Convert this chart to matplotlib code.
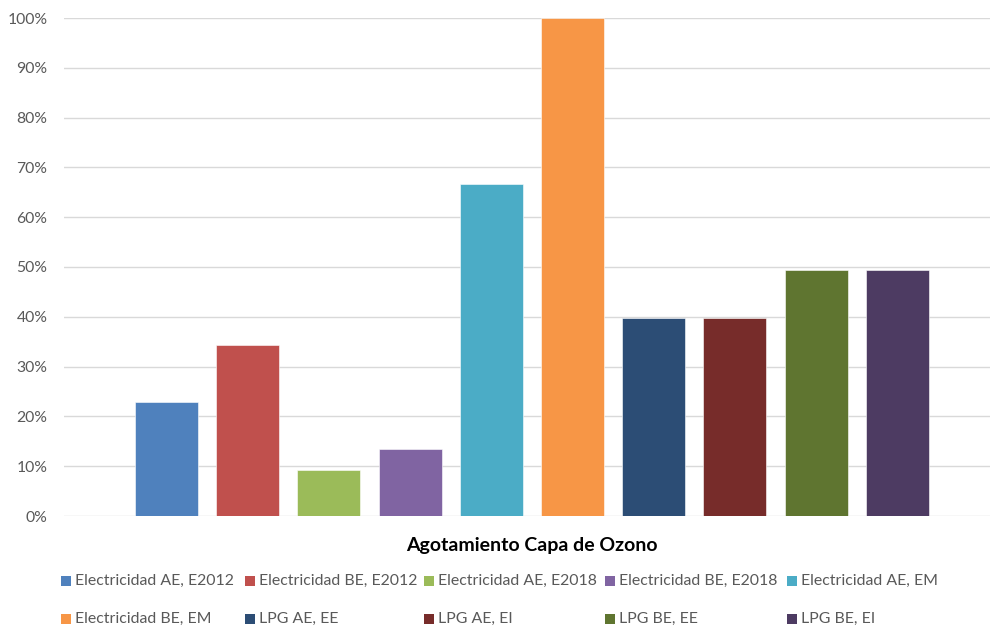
import matplotlib.pyplot as plt
from matplotlib.patches import Rectangle
from matplotlib.ticker import PercentFormatter

# series names and values (share of max)
series = ['Electricidad AE, E2012', 'Electricidad BE, E2012', 'Electricidad AE, E2018',
          'Electricidad BE, E2018', 'Electricidad AE, EM', 'Electricidad BE, EM',
          'LPG AE, EE', 'LPG AE, EI', 'LPG BE, EE', 'LPG BE, EI']
values = [0.229, 0.343, 0.092, 0.135, 0.667, 1.00, 0.398, 0.398, 0.494, 0.494]
colors = ['#4F81BD', '#C0504D', '#9BBB59', '#8064A2', '#4BACC6',
          '#F79646', '#2C4D75', '#772C2A', '#5F7530', '#4D3B62']
category = 'Agotamiento Capa de Ozono'
yticks = [0, 0.1, 0.2, 0.3, 0.4, 0.5, 0.6, 0.7, 0.8, 0.9, 1.0]

plt.rcParams['font.family'] = ['Lato', 'DejaVu Sans']

fig = plt.figure(figsize=(9.9, 6.28), dpi=100)
ax = fig.add_axes([64/990, 1 - 516/628, 1 - 64/990, (516 - 18)/628])

x = list(range(len(values)))
ax.bar(x, values, width=0.776, color=colors, edgecolor='white', linewidth=0.4, zorder=3)

ax.set_xlim(-1.262, 10.142)
ax.set_ylim(0, 1.0)
ax.set_yticks(yticks)
ax.yaxis.set_major_formatter(PercentFormatter(1.0, decimals=0))
ax.set_xticks([])
ax.grid(axis='y', color='#D9D9D9', linewidth=1, zorder=0)
for s in ax.spines.values():
    s.set_visible(False)
ax.tick_params(axis='y', length=0, pad=12, labelsize=11.3, labelcolor='#595959')

# category label
fig.text(532/990, 1 - 545/628, category, ha='center', va='center',
         fontsize=14, fontweight='bold', color='black')

# legend, two rows of five equal-width columns
col_x = [61, 245, 424, 605, 787]
row_y = [581, 619]
for i, (name, c) in enumerate(zip(series, colors)):
    px = col_x[i % 5]
    py = row_y[i // 5]
    fig.patches.append(Rectangle((px/990, 1 - (py + 5)/628), 10/990, 10/628,
                                 transform=fig.transFigure, facecolor=c,
                                 edgecolor='none'))
    fig.text((px + 14)/990, 1 - py/628, name, ha='left', va='center',
             fontsize=11.4, color='#595959')

fig.savefig('out.png', dpi=100)
